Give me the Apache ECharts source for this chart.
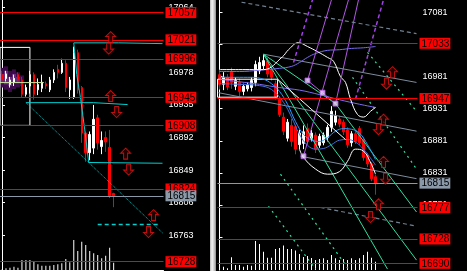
<!DOCTYPE html>
<html><head><meta charset="utf-8">
<script src="https://cdn.jsdelivr.net/npm/echarts@6/dist/echarts.min.js"></script>
<style>html,body{margin:0;padding:0;background:#000;overflow:hidden}#c{width:467px;height:271px}</style>
</head><body><div id="c"></div>
<script>
// ================= LEFT PANEL DATA =================
// candles: [open, close, low, high]
const leftCandles = [
 [16975,16968,16965,16980],[16970,16976,16966,16980],[16962,16968,16958,16972],[16965,16970,16960,16975],
 [16975,16968,16964,16978],[16968,16949,16945,16972],[16949,16958,16946,16962],[16960,16975,16950,16980],
 [16975,16949,16942,16978],[16955,16962,16948,16970],[16957,16965,16952,16975],[16963,16960,16956,16966],
 [16955,16968,16952,16972],[16968,16978,16964,16982],[16982,16978,16970,16988],[16978,16990,16976,16996],
 [16990,16958,16952,16994],[16955,16968,16943,16972],[16945,17004,16943,17012],[17004,16955,16950,17008],
 [16958,16898,16885,16960],[16898,16872,16860,16900],[16872,16896,16862,16900],[16878,16916,16870,16935],
 [16918,16885,16876,16922],[16880,16888,16870,16900],[16892,16886,16873,16900],[16879,16815,16812,16902],
 [16818,16815,16800,16819]
];
const leftVolume = [5,17,23,33,23,100,100,100,90,57,43,43,43,50,57,67,110,77,300,190,283,250,190,167,150,117,143,223,73];
const leftTicks = [17064,17021,16978,16935,16892,16849,16806,16763];
const leftLevels = [17057,17021,16996,16945,16908,16824,16728];
const leftPrice = 16815;
const leftCyanTop = [[18,17017],[29.25,17017],[29.25,17016],[40.25,17016]];
const leftCyanDrop = [[18,17017],[18.75,16975],[19.75,16942],[20.75,16902],[21.75,16859],[40.25,16858]];
const leftCyanMid = [[6,16938],[23,16938],[23,16935.5],[31.5,16935.5]];
const leftCyanDiag = [[6,16938],[40.25,16766]];
const leftCyanDash = [[24,16777],[39.75,16777]];
const leftBox = [[-0.5,17011],[7,17011],[7,16908],[-0.5,16908]];
const leftBlob = [[0,16958,16984],[1,16955,16986],[2,16952,16980],[3,16956,16982],[4,16958,16978],[5,16960,16974]];
const leftBlobCore = [[0,16964,16976],[1,16962,16980],[2,16960,16972],[3,16964,16976],[4,16964,16972]];
const leftPaleLine = [[-0.5,16964.5],[10.5,16964.5]];
const leftArrowsUp = [[27.25,17024.6],[27.25,16946.7],[31,16870.7],[38,16789.5]];
const leftArrowsDown = [[26.75,17009.4],[28.75,16925.6],[31.75,16849.6],[36.75,16767]];

// ================= RIGHT PANEL DATA =================
const rightCandles = [
 [16984,16969,16961,16992],[16969,16980,16960,16988],[16980,16965,16960,16985],[16988,16972,16962,16995],
 [16966,16975,16960,16980],[16972,16958,16950,16978],[16958,16966,16952,16970],[16962,16968,16958,16972],
 [16964,16975,16958,16980],[16972,17000,16966,17006],[16990,17003,16985,17012],[16998,17006,16992,17015],
 [17005,16985,16980,17010],[16992,16980,16975,16996],[16970,16950,16945,16975],[16945,16922,16918,16950],
 [16918,16896,16890,16925],[16885,16910,16880,16915],[16905,16880,16872,16915],[16903,16868,16860,16906],
 [16875,16893,16868,16898],[16877,16895,16868,16905],[16900,16880,16875,16908],[16885,16893,16880,16898],
 [16890,16868,16862,16894],[16874,16888,16870,16892],[16878,16890,16874,16894],[16886,16902,16880,16906],
 [16902,16927,16895,16935],[16910,16920,16905,16928],[16915,16907,16902,16920],[16910,16895,16890,16914],
 [16898,16875,16870,16902],[16878,16892,16872,16896],[16892,16880,16876,16896],[16900,16878,16874,16904],
 [16882,16855,16850,16886],[16858,16845,16840,16862],[16845,16822,16818,16848],[16825,16815,16797,16828]
];
const rightVolume = [33,33,17,127,50,50,33,50,43,290,260,183,123,123,210,220,245,210,210,195,160,130,140,120,100,110,117,100,150,117,100,110,100,117,100,117,150,183,123,83];
const rightTicks = [17081,17031,16981,16931,16881,16831,16781,16731];
const rightLevels = [17033,16947,16777,16728,16690];
const rightPrice = 16815;
const rightMaUpper = [[0,16989],[5,16989],[10,16991],[15,16994],[18,16997],[20,17003],[22,17011],[24,17017],[27,17022],[30,17023],[33,17025],[36,17026],[39,17028]];
const rightMaLower = [[0,16977],[5,16973],[10,16969],[15,16964],[20,16960],[25,16953],[30,16945],[35,16938],[39,16933]];
const rightMaFast = [[0,16980],[4,16980],[8,16980],[11,16977],[13,16970],[15,16958],[17,16938],[19,16911],[21,16891],[23,16882],[25,16880],[27,16886],[29,16896],[31,16900],[33,16899],[35,16893],[37,16875],[39,16852]];
const rightMaMid = [[0,16970],[5,16969],[10,16967],[13,16961],[16,16941],[18,16918],[20,16891],[22,16874],[24,16868],[26,16869],[28,16875],[30,16882],[32,16883],[34,16879],[36,16868],[38,16852],[39,16843]];
const rightEnvUpper = [[0,16992],[11,16992],[15.75,17012],[17.25,17023],[19.75,17034],[22,17028],[24.5,17020],[27,17011],[28.5,17005],[30.25,16981],[31.5,16972],[32.75,16946],[34.5,16922],[36,16918],[37.75,16927],[39,16933]];
const rightEnvLower = [[20,16868],[21,16855],[24,16837],[27,16829],[30,16833],[32,16849],[34,16868],[36,16865],[38,16844],[39,16829]];
const rightWhiteDiag = [[14.5,16977],[31.5,16883]];
const rightBox = [[-0.5,16977],[14.5,16977],[14.5,16949],[-0.5,16949]];
const rightGraySolid = [[[11,17016],[49.25,16972]],[[-0.25,16956],[49.25,16896]],[[20.25,16857],[49.25,16822]]];
const rightGrayDashed = [[[5.5,17097],[49.25,17048]],[[25.25,16777],[49.25,16748]]];
const rightGreenSolid = [[[11,17016],[42,16681]],[[11,17016],[49.25,16695]],[[29,16939],[49.25,16770]],[[11,17016],[29,16939]]];
const rightGreenDotted = [[[33.25,16980],[49.25,16837]],[[37,17019],[49.25,16927]],[[15.25,16829],[32.25,16681]],[[12.25,16779],[24,16681]]];
const rightPurpleSolid = [[[22,16975],[28,17101]],[[21,16857],[32.25,17101]],[[29,16939],[34.75,17101]],[[22,16975],[25.75,16956],[29,16939]]];
const rightPurpleDashed = [[[18.5,17003],[23.25,17101]],[[34,16946],[41,17101]]];
const rightPivots = [[22,16975],[25.75,16956],[29,16939],[21,16857]];
const rightArrowsUp = [[43.25,16988],[41,16914],[41,16848],[39.75,16782]];
const rightArrowsDown = [[41.75,16970],[39.75,16899],[41.5,16822],[37.75,16762]];

// ================= CHART =================
const FONT = 'Liberation Sans, Arial, sans-serif';
const RED = '#ff0000', GRAY = '#8a98a8';
const UP_ARROW = 'path://M5 0L10 5L7 5L7 11L3 11L3 5L0 5Z';
const DOWN_ARROW = 'path://M3 0L7 0L7 6L10 6L5 11L0 6L3 6Z';
const LEFT_SLOTS = 41, RIGHT_SLOTS = 50;

const chart = echarts.init(document.getElementById('c'), null, {renderer: 'canvas'});

function boxRich() {
  const base = {color: '#000', fontSize: 10, fontFamily: FONT, padding: [1, 1, 0, 2], lineHeight: 9};
  return {r: Object.assign({backgroundColor: RED}, base), g: Object.assign({backgroundColor: GRAY}, base)};
}
function priceAxis(grid, min, max, ticks) {
  return {type: 'value', gridIndex: grid, position: 'right', min, max, scale: true,
    axisLine: {show: true, lineStyle: {color: '#fff', width: 1}},
    axisTick: {show: true, customValues: ticks, length: 3, lineStyle: {color: '#fff'}},
    axisLabel: {customValues: ticks, color: '#fff', fontSize: 9, fontFamily: FONT, margin: 5, formatter: v => String(v)},
    splitLine: {show: false}};
}
function boxAxis(grid, min, max, levels, cur) {
  return {type: 'value', gridIndex: grid, position: 'right', min, max, scale: true,
    axisLine: {show: false}, axisTick: {show: false}, splitLine: {show: false},
    axisLabel: {customValues: levels.concat([cur]), margin: 2,
      formatter: v => (v === cur ? '{g|' : '{r|') + String(v) + '}', rich: boxRich()}};
}
function volAxis(grid) {
  return {type: 'value', gridIndex: grid, min: 0, max: 2700, show: false, splitLine: {show: false}};
}
function lineSeries(xi, yi, pts, color, type, width, smooth) {
  return {type: 'line', xAxisIndex: xi, yAxisIndex: yi, data: pts, showSymbol: false, symbol: 'none',
    smooth: smooth || false, silent: true, clip: true,
    lineStyle: {color, width: width || 1, type: type || 'solid'}, z: 3};
}
function candleSeries(xi, yi, data) {
  return {type: 'candlestick', xAxisIndex: xi, yAxisIndex: yi, data, barWidth: 2,
    itemStyle: {color: '#fff', borderColor: '#fff', color0: RED, borderColor0: RED, borderWidth: 1}, z: 2};
}
function volSeries(xi, yi, data) {
  return {type: 'bar', xAxisIndex: xi, yAxisIndex: yi, data, barWidth: 1, itemStyle: {color: '#fff'}, silent: true, z: 1};
}
function levelSeries(xi, yi, levels, cur) {
  return {type: 'line', xAxisIndex: xi, yAxisIndex: yi, data: [], silent: true, z: 2,
    markLine: {silent: true, symbol: ['none', 'none'], label: {show: false}, animation: false,
      data: levels.map(v => ({yAxis: v, lineStyle: {color: RED, width: 1, type: 'solid'}}))
        .concat([{yAxis: cur, lineStyle: {color: GRAY, width: 1, type: 'solid'}}])}};
}
function arrowSeries(xi, yi, pts, sym) {
  return {type: 'scatter', xAxisIndex: xi, yAxisIndex: yi, data: pts, symbol: sym, symbolSize: [10, 11],
    itemStyle: {color: '#2a0000', borderColor: '#ee1111', borderWidth: 1}, silent: true, z: 5};
}
function blobSeries(xi, yi, rows, color) {
  return {type: 'custom', xAxisIndex: xi, yAxisIndex: yi, data: rows, silent: true, z: 1,
    renderItem: (params, api) => {
      const a = api.coord([api.value(0) - 0.5, api.value(2)]);
      const b = api.coord([api.value(0) + 0.5, api.value(1)]);
      return {type: 'rect', shape: {x: a[0], y: a[1], width: b[0] - a[0], height: b[1] - a[1]}, style: {fill: color}};
    }};
}
const closed = pts => pts.concat([pts[0]]);

const series = [];
// left
series.push(blobSeries(1, 0, leftBlob, '#3d0a4a'));
series.push(blobSeries(1, 0, leftBlobCore, '#6a2a7e'));
series.push(volSeries(0, 2, leftVolume));
series.push(lineSeries(1, 0, closed(leftBox), '#ffffff', 'solid', 1));
series.push(lineSeries(1, 0, leftPaleLine, '#c8e6a0', 'solid', 1));
series.push(candleSeries(0, 0, leftCandles));
series.push(levelSeries(0, 0, leftLevels, leftPrice));
series.push(lineSeries(1, 0, leftCyanTop, '#00d0d0', 'solid', 1));
series.push(lineSeries(1, 0, leftCyanDrop, '#00d0d0', 'solid', 1));
series.push(lineSeries(1, 0, leftCyanMid, '#00d0d0', 'solid', 1));
series.push(lineSeries(1, 0, leftCyanDiag, '#00c0c0', [1, 1], 1));
series.push(lineSeries(1, 0, leftCyanDash, '#00d0d0', [4, 3], 1.5));
series.push(arrowSeries(1, 0, leftArrowsUp, UP_ARROW));
series.push(arrowSeries(1, 0, leftArrowsDown, DOWN_ARROW));
// right
series.push(volSeries(2, 5, rightVolume));
series.push(lineSeries(3, 3, closed(rightBox), '#ffffff', 'solid', 1));
rightGraySolid.forEach(p => series.push(lineSeries(3, 3, p, '#7d8c9c', 'solid', 1)));
rightGrayDashed.forEach(p => series.push(lineSeries(3, 3, p, '#708090', [4, 3], 1.2)));
series.push(candleSeries(2, 3, rightCandles));
series.push(levelSeries(2, 3, rightLevels, rightPrice));
rightGreenSolid.forEach(p => series.push(lineSeries(3, 3, p, '#30e0a0', 'solid', 1)));
rightGreenDotted.forEach(p => series.push(lineSeries(3, 3, p, '#30e0a0', [2, 4], 1.2)));
series.push(lineSeries(3, 3, rightMaUpper, '#7a6af0', 'solid', 1, 0.4));
series.push(lineSeries(3, 3, rightMaLower, '#7a6af0', 'solid', 1, 0.4));
series.push(lineSeries(3, 3, rightMaMid, '#3f6fd8', 'solid', 1, 0.4));
series.push(lineSeries(3, 3, rightMaFast, '#2a9cff', 'solid', 1, 0.4));
series.push(lineSeries(3, 3, rightEnvUpper, '#ffffff', 'solid', 1, 0.4));
series.push(lineSeries(3, 3, rightEnvLower, '#ffffff', 'solid', 1, 0.4));
series.push(lineSeries(3, 3, rightWhiteDiag, '#ffffff', 'solid', 1));
rightPurpleSolid.forEach(p => series.push(lineSeries(3, 3, p, '#b455e6', 'solid', 1)));
rightPurpleDashed.forEach(p => series.push(lineSeries(3, 3, p, '#a040e6', [4, 3], 1.5)));
series.push({type: 'scatter', xAxisIndex: 3, yAxisIndex: 3, data: rightPivots, symbol: 'rect', symbolSize: 5,
  itemStyle: {color: '#eedcff', borderColor: '#b455e6', borderWidth: 1}, silent: true, z: 6});
series.push(arrowSeries(3, 3, rightArrowsUp, UP_ARROW));
series.push(arrowSeries(3, 3, rightArrowsDown, DOWN_ARROW));

const cats = n => Array.from({length: n}, (_, i) => String(i));

chart.setOption({
  backgroundColor: '#000',
  animation: false,
  textStyle: {fontFamily: FONT},
  grid: [
    {left: -0.5, top: 0, width: 164, height: 270, containLabel: false},
    {left: 217.5, top: 0, width: 200, height: 270, containLabel: false}
  ],
  xAxis: [
    {type: 'category', gridIndex: 0, data: cats(LEFT_SLOTS), boundaryGap: true,
      axisLine: {show: true, lineStyle: {color: '#fff'}}, axisTick: {show: false}, axisLabel: {show: false}, splitLine: {show: false}},
    {type: 'value', gridIndex: 0, min: -0.5, max: LEFT_SLOTS - 0.5, show: false, splitLine: {show: false}},
    {type: 'category', gridIndex: 1, data: cats(RIGHT_SLOTS), boundaryGap: true,
      axisLine: {show: false}, axisTick: {show: false}, axisLabel: {show: false}, splitLine: {show: false}},
    {type: 'value', gridIndex: 1, min: -0.5, max: RIGHT_SLOTS - 0.5, show: false, splitLine: {show: false}}
  ],
  yAxis: [
    priceAxis(0, 16717.0, 17073.6, leftTicks),
    boxAxis(0, 16717.0, 17073.6, leftLevels, leftPrice),
    volAxis(0),
    priceAxis(1, 16679.6, 17100.5, rightTicks),
    boxAxis(1, 16679.6, 17100.5, rightLevels, rightPrice),
    volAxis(1)
  ],
  graphic: [{
    type: 'rect', shape: {x: 210, y: 0, width: 6, height: 271}, silent: true,
    style: {fill: new echarts.graphic.LinearGradient(0, 0, 1, 0, [
      {offset: 0, color: '#b8b8b8'}, {offset: 0.35, color: '#f4f4f4'}, {offset: 0.7, color: '#c8c8c8'}, {offset: 1, color: '#8c8c8c'}])}
  }],
  series
});
</script>
</body></html>
